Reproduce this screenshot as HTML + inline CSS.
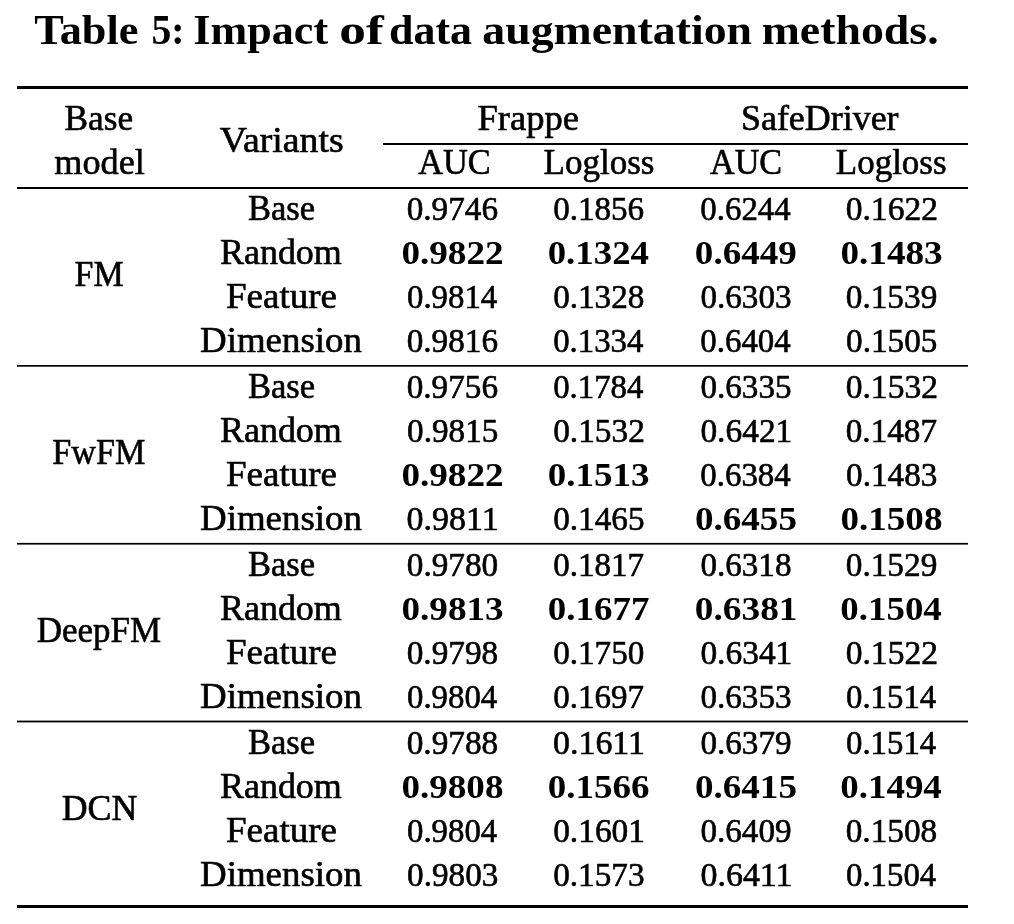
<!DOCTYPE html>
<html><head><meta charset="utf-8"><style>
html,body{margin:0;padding:0;background:#fff;width:1014px;height:924px;overflow:hidden}
svg{display:block;filter:grayscale(100%)}
text{font-family:"Liberation Serif",serif;fill:#000}
</style></head><body>
<svg width="1014" height="924" viewBox="0 0 1014 924">
<text x="86.27" y="43.80" font-size="42.80" font-weight="bold" text-anchor="middle" textLength="104.22" lengthAdjust="spacingAndGlyphs">Table</text>
<text x="168.06" y="43.80" font-size="42.80" font-weight="bold" text-anchor="middle" textLength="33.03" lengthAdjust="spacingAndGlyphs">5:</text>
<text x="260.76" y="43.80" font-size="42.80" font-weight="bold" text-anchor="middle" textLength="134.74" lengthAdjust="spacingAndGlyphs">Impact</text>
<text x="361.45" y="43.80" font-size="42.80" font-weight="bold" text-anchor="middle" textLength="44.44" lengthAdjust="spacingAndGlyphs">of</text>
<text x="430.53" y="43.80" font-size="42.80" font-weight="bold" text-anchor="middle" textLength="83.10" lengthAdjust="spacingAndGlyphs">data</text>
<text x="617.15" y="43.80" font-size="42.80" font-weight="bold" text-anchor="middle" textLength="269.73" lengthAdjust="spacingAndGlyphs">augmentation</text>
<text x="850.13" y="43.80" font-size="42.80" font-weight="bold" text-anchor="middle" textLength="176.94" lengthAdjust="spacingAndGlyphs">methods.</text>
<text x="98.79" y="129.70" font-size="35.00" stroke="#000" stroke-width="0.60" text-anchor="middle" textLength="68.55" lengthAdjust="spacingAndGlyphs">Base</text>
<text x="99.55" y="173.90" font-size="35.00" stroke="#000" stroke-width="0.60" text-anchor="middle" textLength="90.57" lengthAdjust="spacingAndGlyphs">model</text>
<text x="281.74" y="151.60" font-size="35.00" stroke="#000" stroke-width="0.60" text-anchor="middle" textLength="123.75" lengthAdjust="spacingAndGlyphs">Variants</text>
<text x="528.24" y="130.30" font-size="35.00" stroke="#000" stroke-width="0.60" text-anchor="middle" textLength="101.59" lengthAdjust="spacingAndGlyphs">Frappe</text>
<text x="819.79" y="130.30" font-size="35.00" stroke="#000" stroke-width="0.60" text-anchor="middle" textLength="157.59" lengthAdjust="spacingAndGlyphs">SafeDriver</text>
<text x="454.43" y="173.70" font-size="35.00" stroke="#000" stroke-width="0.60" text-anchor="middle" textLength="72.59" lengthAdjust="spacingAndGlyphs">AUC</text>
<text x="599.02" y="173.70" font-size="35.00" stroke="#000" stroke-width="0.60" text-anchor="middle" textLength="110.91" lengthAdjust="spacingAndGlyphs">Logloss</text>
<text x="746.07" y="173.70" font-size="35.00" stroke="#000" stroke-width="0.60" text-anchor="middle" textLength="72.16" lengthAdjust="spacingAndGlyphs">AUC</text>
<text x="891.20" y="173.70" font-size="35.00" stroke="#000" stroke-width="0.60" text-anchor="middle" textLength="110.74" lengthAdjust="spacingAndGlyphs">Logloss</text>
<text x="99.11" y="285.80" font-size="35.00" stroke="#000" stroke-width="0.60" text-anchor="middle" textLength="48.99" lengthAdjust="spacingAndGlyphs">FM</text>
<text x="281.52" y="219.60" font-size="35.00" stroke="#000" stroke-width="0.60" text-anchor="middle" textLength="67.14" lengthAdjust="spacingAndGlyphs">Base</text>
<text x="452.36" y="219.60" font-size="33.00" stroke="#000" stroke-width="0.60" text-anchor="middle" textLength="91.26" lengthAdjust="spacingAndGlyphs">0.9746</text>
<text x="598.66" y="219.60" font-size="33.00" stroke="#000" stroke-width="0.60" text-anchor="middle" textLength="91.00" lengthAdjust="spacingAndGlyphs">0.1856</text>
<text x="745.53" y="219.60" font-size="33.00" stroke="#000" stroke-width="0.60" text-anchor="middle" textLength="90.47" lengthAdjust="spacingAndGlyphs">0.6244</text>
<text x="891.84" y="219.60" font-size="33.00" stroke="#000" stroke-width="0.60" text-anchor="middle" textLength="92.22" lengthAdjust="spacingAndGlyphs">0.1622</text>
<text x="280.89" y="263.70" font-size="35.00" stroke="#000" stroke-width="0.60" text-anchor="middle" textLength="121.93" lengthAdjust="spacingAndGlyphs">Random</text>
<text x="452.53" y="263.70" font-size="33.00" font-weight="bold" text-anchor="middle" textLength="102.25" lengthAdjust="spacingAndGlyphs">0.9822</text>
<text x="598.36" y="263.70" font-size="33.00" font-weight="bold" text-anchor="middle" textLength="101.35" lengthAdjust="spacingAndGlyphs">0.1324</text>
<text x="745.87" y="263.70" font-size="33.00" font-weight="bold" text-anchor="middle" textLength="102.02" lengthAdjust="spacingAndGlyphs">0.6449</text>
<text x="891.55" y="263.70" font-size="33.00" font-weight="bold" text-anchor="middle" textLength="102.23" lengthAdjust="spacingAndGlyphs">0.1483</text>
<text x="281.48" y="307.80" font-size="35.00" stroke="#000" stroke-width="0.60" text-anchor="middle" textLength="110.92" lengthAdjust="spacingAndGlyphs">Feature</text>
<text x="452.12" y="307.80" font-size="33.00" stroke="#000" stroke-width="0.60" text-anchor="middle" textLength="90.22" lengthAdjust="spacingAndGlyphs">0.9814</text>
<text x="598.78" y="307.80" font-size="33.00" stroke="#000" stroke-width="0.60" text-anchor="middle" textLength="91.22" lengthAdjust="spacingAndGlyphs">0.1328</text>
<text x="745.96" y="307.80" font-size="33.00" stroke="#000" stroke-width="0.60" text-anchor="middle" textLength="91.10" lengthAdjust="spacingAndGlyphs">0.6303</text>
<text x="891.53" y="307.80" font-size="33.00" stroke="#000" stroke-width="0.60" text-anchor="middle" textLength="91.51" lengthAdjust="spacingAndGlyphs">0.1539</text>
<text x="280.98" y="351.90" font-size="35.00" stroke="#000" stroke-width="0.60" text-anchor="middle" textLength="161.83" lengthAdjust="spacingAndGlyphs">Dimension</text>
<text x="452.36" y="351.90" font-size="33.00" stroke="#000" stroke-width="0.60" text-anchor="middle" textLength="91.26" lengthAdjust="spacingAndGlyphs">0.9816</text>
<text x="598.29" y="351.90" font-size="33.00" stroke="#000" stroke-width="0.60" text-anchor="middle" textLength="90.27" lengthAdjust="spacingAndGlyphs">0.1334</text>
<text x="745.53" y="351.90" font-size="33.00" stroke="#000" stroke-width="0.60" text-anchor="middle" textLength="90.47" lengthAdjust="spacingAndGlyphs">0.6404</text>
<text x="891.73" y="351.90" font-size="33.00" stroke="#000" stroke-width="0.60" text-anchor="middle" textLength="91.22" lengthAdjust="spacingAndGlyphs">0.1505</text>
<text x="98.87" y="463.80" font-size="35.00" stroke="#000" stroke-width="0.60" text-anchor="middle" textLength="93.03" lengthAdjust="spacingAndGlyphs">FwFM</text>
<text x="281.52" y="397.60" font-size="35.00" stroke="#000" stroke-width="0.60" text-anchor="middle" textLength="67.14" lengthAdjust="spacingAndGlyphs">Base</text>
<text x="452.36" y="397.60" font-size="33.00" stroke="#000" stroke-width="0.60" text-anchor="middle" textLength="91.26" lengthAdjust="spacingAndGlyphs">0.9756</text>
<text x="598.29" y="397.60" font-size="33.00" stroke="#000" stroke-width="0.60" text-anchor="middle" textLength="90.27" lengthAdjust="spacingAndGlyphs">0.1784</text>
<text x="745.97" y="397.60" font-size="33.00" stroke="#000" stroke-width="0.60" text-anchor="middle" textLength="91.13" lengthAdjust="spacingAndGlyphs">0.6335</text>
<text x="891.84" y="397.60" font-size="33.00" stroke="#000" stroke-width="0.60" text-anchor="middle" textLength="92.22" lengthAdjust="spacingAndGlyphs">0.1532</text>
<text x="280.89" y="441.70" font-size="35.00" stroke="#000" stroke-width="0.60" text-anchor="middle" textLength="121.93" lengthAdjust="spacingAndGlyphs">Random</text>
<text x="452.73" y="441.70" font-size="33.00" stroke="#000" stroke-width="0.60" text-anchor="middle" textLength="91.22" lengthAdjust="spacingAndGlyphs">0.9815</text>
<text x="598.99" y="441.70" font-size="33.00" stroke="#000" stroke-width="0.60" text-anchor="middle" textLength="91.73" lengthAdjust="spacingAndGlyphs">0.1532</text>
<text x="746.35" y="441.70" font-size="33.00" stroke="#000" stroke-width="0.60" text-anchor="middle" textLength="91.91" lengthAdjust="spacingAndGlyphs">0.6421</text>
<text x="891.40" y="441.70" font-size="33.00" stroke="#000" stroke-width="0.60" text-anchor="middle" textLength="91.25" lengthAdjust="spacingAndGlyphs">0.1487</text>
<text x="281.48" y="485.80" font-size="35.00" stroke="#000" stroke-width="0.60" text-anchor="middle" textLength="110.92" lengthAdjust="spacingAndGlyphs">Feature</text>
<text x="452.53" y="485.80" font-size="33.00" font-weight="bold" text-anchor="middle" textLength="102.25" lengthAdjust="spacingAndGlyphs">0.9822</text>
<text x="598.68" y="485.80" font-size="33.00" font-weight="bold" text-anchor="middle" textLength="101.87" lengthAdjust="spacingAndGlyphs">0.1513</text>
<text x="745.53" y="485.80" font-size="33.00" stroke="#000" stroke-width="0.60" text-anchor="middle" textLength="90.47" lengthAdjust="spacingAndGlyphs">0.6384</text>
<text x="891.74" y="485.80" font-size="33.00" stroke="#000" stroke-width="0.60" text-anchor="middle" textLength="91.24" lengthAdjust="spacingAndGlyphs">0.1483</text>
<text x="280.98" y="529.90" font-size="35.00" stroke="#000" stroke-width="0.60" text-anchor="middle" textLength="161.83" lengthAdjust="spacingAndGlyphs">Dimension</text>
<text x="452.71" y="529.90" font-size="33.00" stroke="#000" stroke-width="0.60" text-anchor="middle" textLength="92.20" lengthAdjust="spacingAndGlyphs">0.9811</text>
<text x="598.84" y="529.90" font-size="33.00" stroke="#000" stroke-width="0.60" text-anchor="middle" textLength="91.35" lengthAdjust="spacingAndGlyphs">0.1465</text>
<text x="745.98" y="529.90" font-size="33.00" font-weight="bold" text-anchor="middle" textLength="101.97" lengthAdjust="spacingAndGlyphs">0.6455</text>
<text x="891.43" y="529.90" font-size="33.00" font-weight="bold" text-anchor="middle" textLength="102.01" lengthAdjust="spacingAndGlyphs">0.1508</text>
<text x="98.92" y="642.30" font-size="35.00" stroke="#000" stroke-width="0.60" text-anchor="middle" textLength="124.28" lengthAdjust="spacingAndGlyphs">DeepFM</text>
<text x="281.52" y="575.60" font-size="35.00" stroke="#000" stroke-width="0.60" text-anchor="middle" textLength="67.14" lengthAdjust="spacingAndGlyphs">Base</text>
<text x="452.51" y="575.60" font-size="33.00" stroke="#000" stroke-width="0.60" text-anchor="middle" textLength="91.43" lengthAdjust="spacingAndGlyphs">0.9780</text>
<text x="598.59" y="575.60" font-size="33.00" stroke="#000" stroke-width="0.60" text-anchor="middle" textLength="90.87" lengthAdjust="spacingAndGlyphs">0.1817</text>
<text x="745.92" y="575.60" font-size="33.00" stroke="#000" stroke-width="0.60" text-anchor="middle" textLength="91.04" lengthAdjust="spacingAndGlyphs">0.6318</text>
<text x="891.53" y="575.60" font-size="33.00" stroke="#000" stroke-width="0.60" text-anchor="middle" textLength="91.51" lengthAdjust="spacingAndGlyphs">0.1529</text>
<text x="280.89" y="619.70" font-size="35.00" stroke="#000" stroke-width="0.60" text-anchor="middle" textLength="121.93" lengthAdjust="spacingAndGlyphs">Random</text>
<text x="452.55" y="619.70" font-size="33.00" font-weight="bold" text-anchor="middle" textLength="102.23" lengthAdjust="spacingAndGlyphs">0.9813</text>
<text x="598.53" y="619.70" font-size="33.00" font-weight="bold" text-anchor="middle" textLength="101.71" lengthAdjust="spacingAndGlyphs">0.1677</text>
<text x="746.21" y="619.70" font-size="33.00" font-weight="bold" text-anchor="middle" textLength="102.64" lengthAdjust="spacingAndGlyphs">0.6381</text>
<text x="891.07" y="619.70" font-size="33.00" font-weight="bold" text-anchor="middle" textLength="101.47" lengthAdjust="spacingAndGlyphs">0.1504</text>
<text x="281.48" y="663.80" font-size="35.00" stroke="#000" stroke-width="0.60" text-anchor="middle" textLength="110.92" lengthAdjust="spacingAndGlyphs">Feature</text>
<text x="452.46" y="663.80" font-size="33.00" stroke="#000" stroke-width="0.60" text-anchor="middle" textLength="91.53" lengthAdjust="spacingAndGlyphs">0.9798</text>
<text x="598.77" y="663.80" font-size="33.00" stroke="#000" stroke-width="0.60" text-anchor="middle" textLength="91.20" lengthAdjust="spacingAndGlyphs">0.1750</text>
<text x="746.35" y="663.80" font-size="33.00" stroke="#000" stroke-width="0.60" text-anchor="middle" textLength="91.91" lengthAdjust="spacingAndGlyphs">0.6341</text>
<text x="891.84" y="663.80" font-size="33.00" stroke="#000" stroke-width="0.60" text-anchor="middle" textLength="92.22" lengthAdjust="spacingAndGlyphs">0.1522</text>
<text x="280.98" y="707.90" font-size="35.00" stroke="#000" stroke-width="0.60" text-anchor="middle" textLength="161.83" lengthAdjust="spacingAndGlyphs">Dimension</text>
<text x="452.12" y="707.90" font-size="33.00" stroke="#000" stroke-width="0.60" text-anchor="middle" textLength="90.22" lengthAdjust="spacingAndGlyphs">0.9804</text>
<text x="598.59" y="707.90" font-size="33.00" stroke="#000" stroke-width="0.60" text-anchor="middle" textLength="90.87" lengthAdjust="spacingAndGlyphs">0.1697</text>
<text x="745.96" y="707.90" font-size="33.00" stroke="#000" stroke-width="0.60" text-anchor="middle" textLength="91.10" lengthAdjust="spacingAndGlyphs">0.6353</text>
<text x="891.12" y="707.90" font-size="33.00" stroke="#000" stroke-width="0.60" text-anchor="middle" textLength="90.22" lengthAdjust="spacingAndGlyphs">0.1514</text>
<text x="99.49" y="819.70" font-size="35.00" stroke="#000" stroke-width="0.60" text-anchor="middle" textLength="75.48" lengthAdjust="spacingAndGlyphs">DCN</text>
<text x="281.52" y="753.60" font-size="35.00" stroke="#000" stroke-width="0.60" text-anchor="middle" textLength="67.14" lengthAdjust="spacingAndGlyphs">Base</text>
<text x="452.46" y="753.60" font-size="33.00" stroke="#000" stroke-width="0.60" text-anchor="middle" textLength="91.53" lengthAdjust="spacingAndGlyphs">0.9788</text>
<text x="599.04" y="753.60" font-size="33.00" stroke="#000" stroke-width="0.60" text-anchor="middle" textLength="91.85" lengthAdjust="spacingAndGlyphs">0.1611</text>
<text x="746.01" y="753.60" font-size="33.00" stroke="#000" stroke-width="0.60" text-anchor="middle" textLength="91.20" lengthAdjust="spacingAndGlyphs">0.6379</text>
<text x="891.12" y="753.60" font-size="33.00" stroke="#000" stroke-width="0.60" text-anchor="middle" textLength="90.22" lengthAdjust="spacingAndGlyphs">0.1514</text>
<text x="280.89" y="797.70" font-size="35.00" stroke="#000" stroke-width="0.60" text-anchor="middle" textLength="121.93" lengthAdjust="spacingAndGlyphs">Random</text>
<text x="452.43" y="797.70" font-size="33.00" font-weight="bold" text-anchor="middle" textLength="102.01" lengthAdjust="spacingAndGlyphs">0.9808</text>
<text x="598.68" y="797.70" font-size="33.00" font-weight="bold" text-anchor="middle" textLength="101.78" lengthAdjust="spacingAndGlyphs">0.1566</text>
<text x="745.98" y="797.70" font-size="33.00" font-weight="bold" text-anchor="middle" textLength="101.97" lengthAdjust="spacingAndGlyphs">0.6415</text>
<text x="891.07" y="797.70" font-size="33.00" font-weight="bold" text-anchor="middle" textLength="101.47" lengthAdjust="spacingAndGlyphs">0.1494</text>
<text x="281.48" y="841.80" font-size="35.00" stroke="#000" stroke-width="0.60" text-anchor="middle" textLength="110.92" lengthAdjust="spacingAndGlyphs">Feature</text>
<text x="452.12" y="841.80" font-size="33.00" stroke="#000" stroke-width="0.60" text-anchor="middle" textLength="90.22" lengthAdjust="spacingAndGlyphs">0.9804</text>
<text x="599.06" y="841.80" font-size="33.00" stroke="#000" stroke-width="0.60" text-anchor="middle" textLength="91.80" lengthAdjust="spacingAndGlyphs">0.1601</text>
<text x="746.01" y="841.80" font-size="33.00" stroke="#000" stroke-width="0.60" text-anchor="middle" textLength="91.20" lengthAdjust="spacingAndGlyphs">0.6409</text>
<text x="891.46" y="841.80" font-size="33.00" stroke="#000" stroke-width="0.60" text-anchor="middle" textLength="91.53" lengthAdjust="spacingAndGlyphs">0.1508</text>
<text x="280.98" y="885.90" font-size="35.00" stroke="#000" stroke-width="0.60" text-anchor="middle" textLength="161.83" lengthAdjust="spacingAndGlyphs">Dimension</text>
<text x="452.74" y="885.90" font-size="33.00" stroke="#000" stroke-width="0.60" text-anchor="middle" textLength="91.24" lengthAdjust="spacingAndGlyphs">0.9803</text>
<text x="598.88" y="885.90" font-size="33.00" stroke="#000" stroke-width="0.60" text-anchor="middle" textLength="91.39" lengthAdjust="spacingAndGlyphs">0.1573</text>
<text x="746.49" y="885.90" font-size="33.00" stroke="#000" stroke-width="0.60" text-anchor="middle" textLength="91.85" lengthAdjust="spacingAndGlyphs">0.6411</text>
<text x="891.12" y="885.90" font-size="33.00" stroke="#000" stroke-width="0.60" text-anchor="middle" textLength="90.22" lengthAdjust="spacingAndGlyphs">0.1504</text>
<rect x="17" y="86.00" width="951" height="3.00" fill="#000"/>
<rect x="383" y="143.00" width="585" height="2.00" fill="#000"/>
<rect x="17" y="187.00" width="951" height="2.00" fill="#000"/>
<rect x="17" y="365.00" width="951" height="1.70" fill="#000"/>
<rect x="17" y="542.90" width="951" height="1.70" fill="#000"/>
<rect x="17" y="720.60" width="951" height="1.80" fill="#000"/>
<rect x="17" y="905.00" width="951" height="3.00" fill="#000"/>
</svg>
</body></html>
